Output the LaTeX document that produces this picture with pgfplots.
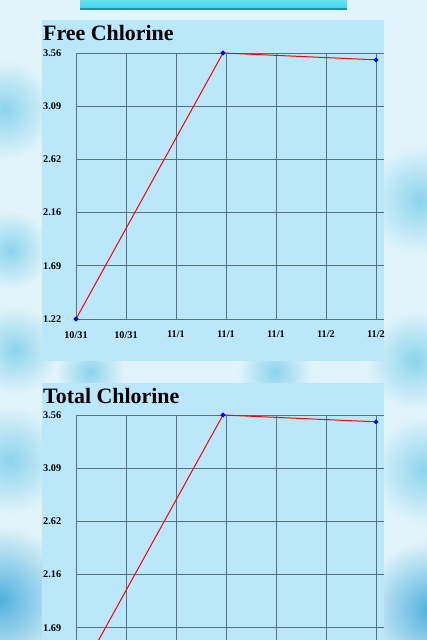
\documentclass[border=0pt]{standalone}
\usepackage{pgfplots}
\pgfplotsset{compat=1.18}
\usepackage{fontspec}
\setmainfont{Liberation Serif}
\definecolor{bgc}{RGB}{226,244,250}
\definecolor{panel}{RGB}{187,231,251}
\definecolor{gridc}{RGB}{88,114,128}
\definecolor{blobc}{RGB}{140,212,238}
\definecolor{blobd}{RGB}{80,176,222}
\definecolor{btn}{RGB}{60,214,236}
\definecolor{btnd}{RGB}{20,150,170}
\pgfplotsset{chlor/.style={
  scale only axis, width=308bp, height=266bp,
  anchor=south west,
  xmin=0, xmax=6.16, ymin=1.22, ymax=3.56,
  axis line style={draw=none},
  grid=major, major grid style={draw=gridc, line width=0.8bp},
  major tick length=0pt,
  xtick={0,1,2,3,4,5,6},
  xticklabels={10/31,10/31,11/1,11/1,11/1,11/2,11/2},
  ytick={1.22,1.688,2.156,2.624,3.092,3.56},
  yticklabels={1.22,1.69,2.16,2.62,3.09,3.56},
  tick label style={font=\bfseries\fontsize{10.3}{10}\selectfont},
  yticklabel style={anchor=west, inner sep=0pt, xshift=-33bp},
  xticklabel style={anchor=north, inner sep=0pt, yshift=-12bp},
  clip=false,
}}
\begin{document}
\begin{tikzpicture}
\clip (0,0) rectangle (427bp,-640bp);
\fill[bgc] (0,0) rectangle (427bp,-640bp);
% background blobs
\shade[inner color=blobc, outer color=bgc] (5bp,-110bp) circle (50bp);
\shade[inner color=blobc, outer color=bgc] (10bp,-250bp) circle (40bp);
\shade[inner color=blobc, outer color=bgc] (15bp,-350bp) circle (45bp);
\shade[inner color=blobc, outer color=bgc] (10bp,-460bp) circle (55bp);
\shade[inner color=blobd, outer color=bgc] (0bp,-600bp) circle (75bp);
\shade[inner color=blobc, outer color=bgc] (420bp,-200bp) circle (55bp);
\shade[inner color=blobc, outer color=bgc] (415bp,-360bp) circle (50bp);
\shade[inner color=blobc, outer color=bgc] (425bp,-470bp) circle (55bp);
\shade[inner color=blobd, outer color=bgc] (430bp,-610bp) circle (70bp);
\shade[inner color=blobc, outer color=bgc] (90bp,-372bp) circle (35bp);
\shade[inner color=blobc, outer color=bgc] (275bp,-372bp) circle (38bp);
% button
\shade[top color=btn!70!white, bottom color=btn] (80bp,2bp) rectangle (347bp,-8bp);
\fill[btnd] (80bp,-8bp) rectangle (347bp,-10bp);
% panels
\fill[panel] (42bp,-20bp) rectangle (384bp,-361bp);
\fill[panel] (42bp,-383bp) rectangle (384bp,-720bp);
\node[anchor=base west, inner sep=0pt, font=\bfseries\fontsize{22}{22}\selectfont] at (43bp,-40bp) {Free Chlorine};
\node[anchor=base west, inner sep=0pt, font=\bfseries\fontsize{22}{22}\selectfont] at (43bp,-403bp) {Total Chlorine};
\begin{axis}[chlor, at={(76bp,-319bp)}]
\addplot[red, line width=1bp, mark=*, mark size=1.8bp, mark options={draw=blue, fill=blue}] coordinates {(0,1.22) (2.94,3.56) (6.0,3.50)};
\end{axis}
\begin{axis}[chlor, at={(76bp,-681bp)}, xticklabels={}, yticklabels={,1.69,2.16,2.62,3.09,3.56}]
\addplot[red, line width=1bp, mark=*, mark size=1.8bp, mark options={draw=blue, fill=blue}] coordinates {(0,1.22) (2.94,3.56) (6.0,3.50)};
\end{axis}
\end{tikzpicture}
\end{document}
